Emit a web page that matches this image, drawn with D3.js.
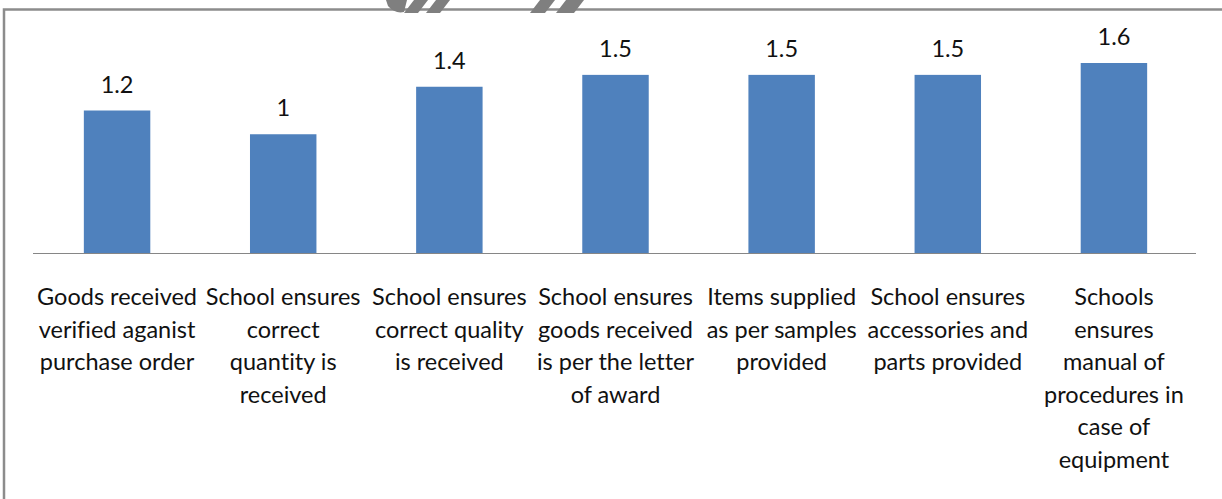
<!DOCTYPE html>
<html>
<head>
<meta charset="utf-8">
<script src="https://cdn.jsdelivr.net/npm/d3@7"></script>
<style>
  body { margin: 0; background: #fff; }
  svg text { font-family: Lato, "Open Sans", sans-serif; fill: #111; font-variant-ligatures: none; }
</style>
</head>
<body>
<svg id="chart" width="1222" height="499"></svg>
<script>
var categories = [
  ["Goods received", "verified aganist", "purchase order"],
  ["School ensures", "correct", "quantity is", "received"],
  ["School ensures", "correct quality", "is received"],
  ["School ensures", "goods received", "is per the letter", "of award"],
  ["Items supplied", "as per samples", "provided"],
  ["School ensures", "accessories and", "parts provided"],
  ["Schools", "ensures", "manual of", "procedures in", "case of", "equipment"]
];
var values = [1.2, 1, 1.4, 1.5, 1.5, 1.5, 1.6];
var valueLabels = ["1.2", "1", "1.4", "1.5", "1.5", "1.5", "1.6"];

var svg = d3.select("#chart");

// frame (only top and left edges show in the crop)
svg.append("path")
  .attr("d", "M4,499 L4,9.5 L1222,9.5")
  .attr("fill", "none")
  .attr("stroke", "#8c8c8c")
  .attr("stroke-width", 2.5);

// grey arrow bits poking in at the top
var deco = svg.append("g").attr("fill", "#7f7f7f");
deco.append("path").attr("d", "M386,0 L407,0 L404,12 Q395,14 388,6 Z");
deco.append("path").attr("d", "M414,0 L428,0 L418,13 L404,13 Z");
deco.append("path").attr("d", "M436,0 L450,0 L440,13 L426,13 Z");
deco.append("path").attr("d", "M540,0 L555,0 L545,13 L530,13 Z");
deco.append("path").attr("d", "M566,0 L584,0 L574,13 L556,13 Z");

var x = d3.scaleBand()
  .domain(d3.range(values.length))
  .range([34, 1197])
  .paddingInner(0.6)
  .paddingOuter(0.3);

var y = d3.scaleLinear()
  .domain([0, 2])
  .range([253, 15.5]);

svg.selectAll("rect.bar")
  .data(values)
  .enter()
  .append("rect")
  .attr("class", "bar")
  .attr("x", function(d, i) { return x(i); })
  .attr("y", function(d) { return y(d); })
  .attr("width", x.bandwidth())
  .attr("height", function(d) { return y(0) - y(d); })
  .attr("fill", "#4f81bd");

// baseline
svg.append("line")
  .attr("x1", 33).attr("x2", 1196)
  .attr("y1", y(0) + 0.5).attr("y2", y(0) + 0.5)
  .attr("stroke", "#868686")
  .attr("stroke-width", 1.2);

svg.selectAll("text.val")
  .data(values)
  .enter()
  .append("text")
  .attr("class", "val")
  .attr("x", function(d, i) { return x(i) + x.bandwidth() / 2; })
  .attr("y", function(d) { return y(d) - 18; })
  .attr("text-anchor", "middle")
  .style("font-size", "23.5px")
  .text(function(d, i) { return valueLabels[i]; });

categories.forEach(function(lines, i) {
  var t = svg.append("text")
    .attr("text-anchor", "middle")
    .style("font-size", "23.5px");
  lines.forEach(function(line, j) {
    t.append("tspan")
      .attr("x", x(i) + x.bandwidth() / 2)
      .attr("y", 305 + j * 32.5)
      .text(line);
  });
});
</script>
</body>
</html>
